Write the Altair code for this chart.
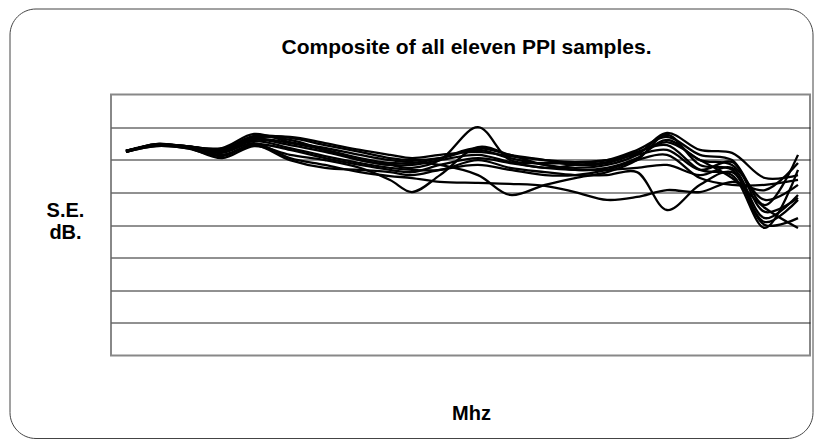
import altair as alt
import pandas as pd

# Frequency positions (arbitrary MHz units, axis unlabeled in the original)
freq = [15, 45, 75, 111, 143, 179, 214, 249, 279, 301, 329, 367, 399, 434, 464, 496, 526, 556, 589, 621, 654, 687]

# Shielding effectiveness (dB) for the eleven samples
s1 = [62.7, 64.5, 64.2, 63.0, 67.0, 66.1, 63.0, 59.9, 58.4, 57.5, 59.9, 70.0, 59.9, 59.0, 59.0, 59.9, 63.0, 67.0, 61.5, 59.9, 46.1, 61.5]
s2 = [62.4, 64.8, 63.9, 60.5, 64.2, 61.5, 59.9, 57.5, 53.8, 50.1, 55.3, 63.9, 61.5, 58.4, 57.5, 58.4, 61.5, 68.2, 63.0, 62.1, 54.4, 55.3]
s3 = [62.7, 64.5, 63.6, 62.1, 65.1, 60.5, 58.4, 56.2, 55.0, 54.4, 53.2, 52.9, 52.6, 52.0, 50.1, 47.7, 48.6, 50.7, 50.1, 53.2, 50.7, 59.0]
s4 = [62.4, 64.2, 63.9, 63.6, 67.9, 65.4, 63.6, 61.5, 59.9, 59.3, 58.4, 55.3, 49.2, 52.3, 54.4, 56.2, 59.9, 67.6, 58.4, 56.9, 40.9, 47.7]
s5 = [62.7, 64.5, 64.2, 63.3, 67.3, 66.7, 64.5, 62.4, 60.5, 59.9, 60.5, 63.0, 60.5, 58.4, 56.9, 57.5, 60.5, 66.1, 59.9, 58.4, 47.7, 52.3]
s6 = [62.4, 64.8, 63.9, 62.4, 66.1, 64.5, 62.4, 59.9, 58.4, 58.4, 59.9, 61.5, 59.3, 57.5, 58.4, 59.3, 62.4, 64.5, 56.9, 55.3, 39.1, 56.9]
s7 = [62.7, 64.5, 64.2, 63.0, 66.7, 67.0, 65.1, 63.0, 61.5, 60.5, 61.5, 62.4, 61.1, 59.9, 59.3, 59.9, 61.5, 63.0, 56.9, 59.3, 44.0, 48.3]
s8 = [62.7, 64.5, 63.9, 61.5, 64.8, 63.0, 60.5, 58.4, 56.9, 56.2, 58.4, 60.5, 59.0, 57.5, 56.9, 56.9, 57.5, 58.4, 55.3, 57.5, 42.1, 49.2]
s9 = [62.4, 64.5, 63.9, 62.7, 65.7, 63.6, 61.1, 59.0, 57.5, 56.9, 56.9, 59.9, 57.5, 56.2, 55.3, 55.3, 56.2, 44.6, 52.3, 56.2, 40.0, 42.1]
s10 = [62.7, 64.8, 64.2, 63.3, 66.4, 65.1, 63.0, 60.5, 59.0, 59.0, 60.5, 63.6, 61.5, 59.9, 58.4, 59.0, 62.1, 65.4, 59.9, 54.4, 45.2, 39.1]
s11 = [62.4, 64.2, 63.6, 61.1, 64.5, 59.9, 57.5, 56.9, 56.2, 55.3, 56.9, 58.4, 56.9, 55.3, 55.3, 56.9, 59.9, 61.5, 54.4, 52.3, 52.3, 53.8]

series = {
    "Sample 1": s1, "Sample 2": s2, "Sample 3": s3, "Sample 4": s4,
    "Sample 5": s5, "Sample 6": s6, "Sample 7": s7, "Sample 8": s8,
    "Sample 9": s9, "Sample 10": s10, "Sample 11": s11,
}

rows = []
for name, vals in series.items():
    for f, v in zip(freq, vals):
        rows.append({"sample": name, "freq": f, "se": v})
df = pd.DataFrame(rows)

FONT = "Liberation Sans"

lines = alt.Chart(df).mark_line(
    interpolate="catmull-rom", color="black", strokeWidth=2.3
).encode(
    x=alt.X(
        "freq:Q",
        scale=alt.Scale(domain=[0, 699], nice=False, zero=False),
        axis=alt.Axis(
            title="Mhz", labels=False, ticks=False, domain=False, grid=False,
            titleFont=FONT, titleFontSize=20, titleFontWeight="bold", titleColor="black",
            titleAnchor="start", titleAlign="center", titleBaseline="alphabetic",
            titleX=360, titleY=64,
        ),
    ),
    y=alt.Y(
        "se:Q",
        scale=alt.Scale(domain=[0, 80], nice=False),
        axis=alt.Axis(
            title=["S.E.", "dB."], labels=False, ticks=False, domain=False,
            grid=True, values=[10, 20, 30, 40, 50, 60, 70],
            gridColor="#222222", gridWidth=1,
            titleFont=FONT, titleFontSize=20, titleFontWeight="bold", titleColor="black",
            titleAngle=0, titleAlign="center", titleBaseline="alphabetic",
            titleX=-46, titleY=122, titleLineHeight=22,
        ),
    ),
    detail="sample:N",
)

frame = alt.Chart(pd.DataFrame({"k": [0]})).mark_rect(
    fill=None, stroke="#444444", strokeWidth=1, cornerRadius=26, clip=False
).encode(
    x=alt.value(-101), x2=alt.value(702), y=alt.value(-85.5), y2=alt.value(344)
)

chart = alt.layer(frame, lines).properties(
    width=699,
    height=261,
    title=alt.TitleParams(
        "Composite of all eleven PPI samples.",
        font=FONT, fontSize=21, fontWeight="bold", color="black",
        anchor="middle", dx=6, offset=-66, baseline="alphabetic",
    ),
    padding={"left": 103, "top": 86.5, "right": 5, "bottom": 84.5},
    autosize=alt.AutoSizeParams(type="none"),
    background="white",
).configure_view(
    stroke="#888888", strokeWidth=2
)

chart.save("out.html", embed_options={"renderer": "svg", "actions": False})
